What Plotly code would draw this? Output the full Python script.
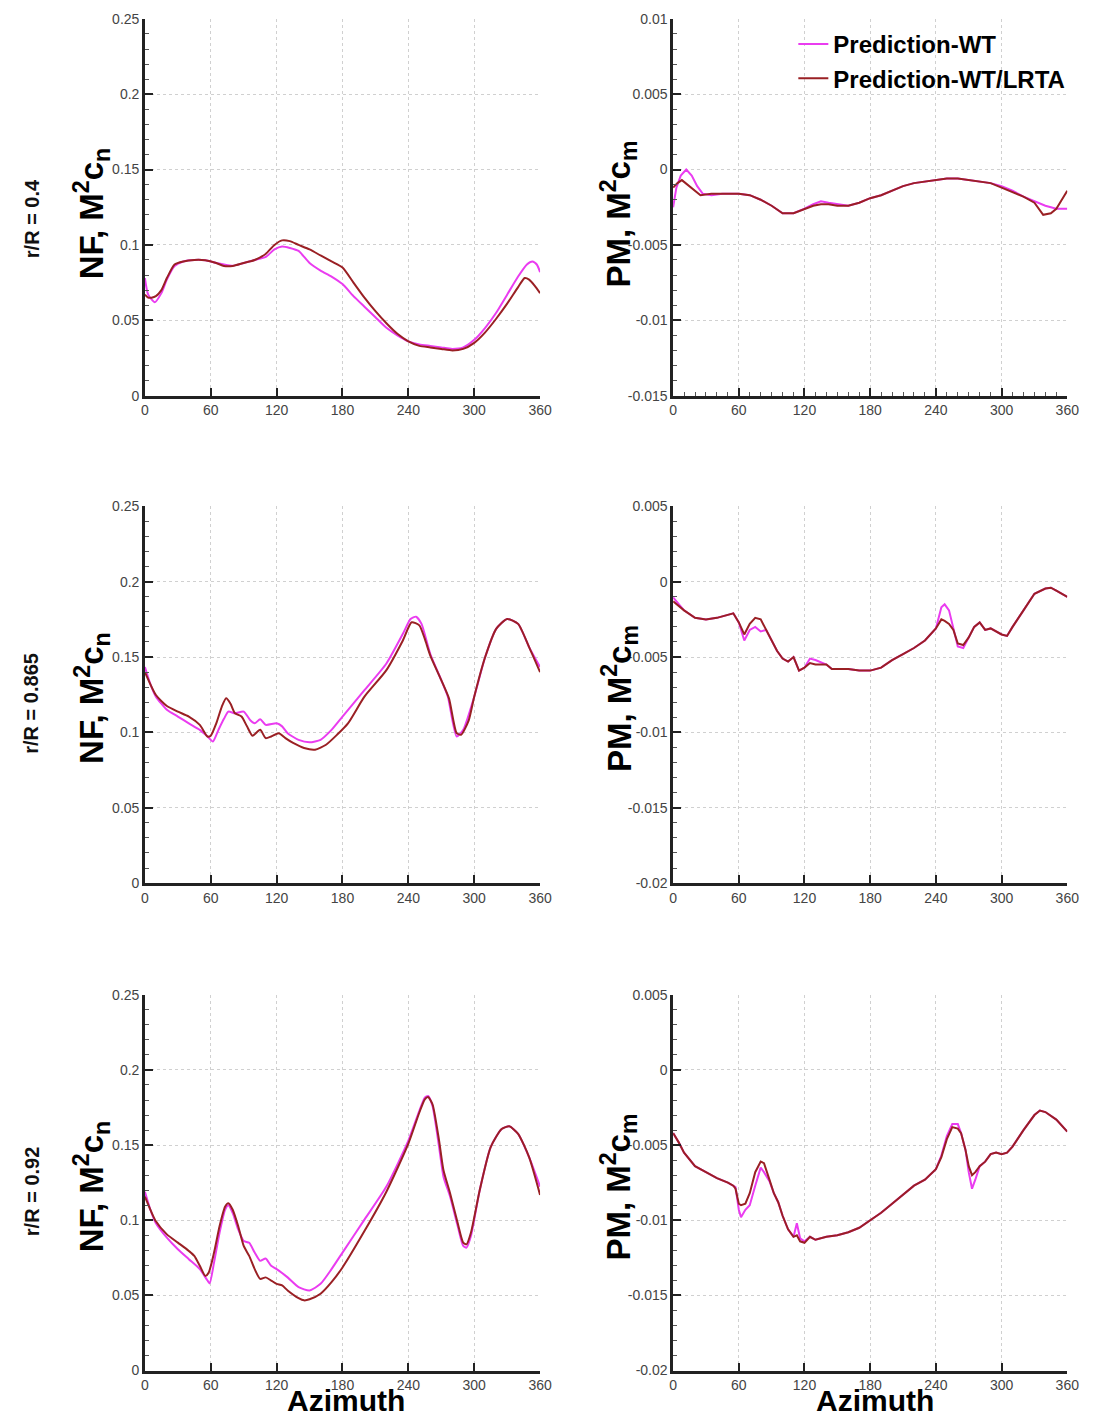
import plotly.graph_objects as go

# ---------------- data ----------------
AZ_TICKS = [0, 60, 120, 180, 240, 300, 360]
AZ_TICKTEXT = ["0", "60", "120", "180", "240", "300", "360"]

NF_TICKS = [0, 0.05, 0.1, 0.15, 0.2, 0.25]
NF_TICKTEXT = ["0", "0.05", "0.1", "0.15", "0.2", "0.25"]
PM_TOP_TICKS = [-0.015, -0.01, -0.005, 0, 0.005, 0.01]
PM_TOP_TICKTEXT = ["-0.015", "-0.01", "-0.005", "0", "0.005", "0.01"]
PM_TICKS = [-0.02, -0.015, -0.01, -0.005, 0, 0.005]
PM_TICKTEXT = ["-0.02", "-0.015", "-0.01", "-0.005", "0", "0.005"]

ROW_LABELS = ["r/R = 0.4", "r/R = 0.865", "r/R = 0.92"]
SERIES_NAMES = ["Prediction-WT", "Prediction-WT/LRTA"]

# r/R = 0.4, normal force
nf04_wt_az = [0, 3, 9, 15, 20, 27, 35, 45, 55, 65, 72, 80, 90, 100, 110, 118, 125, 132, 140, 150,
              160, 170, 180, 190, 200, 210, 220, 230, 240, 250, 260, 270, 280, 290, 300, 310, 320,
              330, 340, 348, 353, 357, 360]
nf04_wt = [0.078, 0.067, 0.062, 0.068, 0.077, 0.086, 0.089, 0.090, 0.0898, 0.088, 0.087, 0.0862,
           0.088, 0.090, 0.092, 0.097, 0.099, 0.098, 0.096, 0.088, 0.083, 0.079, 0.074, 0.066,
           0.059, 0.052, 0.045, 0.040, 0.036, 0.034, 0.033, 0.032, 0.031, 0.032, 0.037, 0.045,
           0.055, 0.067, 0.079, 0.087, 0.089, 0.087, 0.082]
nf04_lr_az = [0, 3, 6, 10, 15, 20, 27, 35, 45, 55, 65, 72, 80, 90, 100, 110, 118, 125, 132, 140,
              150, 160, 170, 180, 190, 200, 210, 220, 230, 240, 250, 260, 270, 280, 290, 300, 310,
              320, 330, 340, 346, 350, 355, 360]
nf04_lr = [0.067, 0.065, 0.065, 0.066, 0.070, 0.078, 0.087, 0.089, 0.090, 0.0898, 0.088, 0.086,
           0.086, 0.088, 0.090, 0.094, 0.100, 0.103, 0.1025, 0.100, 0.097, 0.093, 0.089, 0.085,
           0.075, 0.065, 0.056, 0.048, 0.041, 0.036, 0.033, 0.032, 0.031, 0.030, 0.031, 0.035,
           0.042, 0.051, 0.061, 0.072, 0.078, 0.077, 0.073, 0.068]

# r/R = 0.4, pitching moment
pm04_wt_az = [0, 3, 7, 12, 17, 22, 27, 35, 45, 60, 70, 80, 90, 100, 110, 120, 128, 135, 142, 150,
              160, 170, 180, 190, 200, 210, 220, 230, 240, 250, 260, 270, 280, 290, 300, 310, 320,
              330, 340, 350, 355, 360]
pm04_wt = [-0.0025, -0.0012, -0.0004, 0.0, -0.0004, -0.0011, -0.0016, -0.0017, -0.0016, -0.0016,
           -0.0017, -0.0020, -0.0024, -0.0029, -0.0029, -0.0026, -0.0023, -0.0021, -0.0022,
           -0.0023, -0.0024, -0.0022, -0.0019, -0.0017, -0.0014, -0.0011, -0.0009, -0.0008,
           -0.0007, -0.0006, -0.0006, -0.0007, -0.0008, -0.0009, -0.0011, -0.0014, -0.0018,
           -0.0021, -0.0024, -0.0026, -0.0026, -0.0026]
pm04_lr_az = [0, 4, 8, 13, 18, 25, 35, 45, 60, 70, 80, 90, 100, 110, 120, 128, 135, 142, 150, 160,
              170, 180, 190, 200, 210, 220, 230, 240, 250, 260, 270, 280, 290, 300, 310, 320, 330,
              338, 345, 350, 355, 360]
pm04_lr = [-0.0012, -0.0009, -0.0007, -0.0010, -0.0013, -0.0017, -0.0016, -0.0016, -0.0016,
           -0.0017, -0.0020, -0.0024, -0.0029, -0.0029, -0.0026, -0.0024, -0.0023, -0.0023,
           -0.0024, -0.0024, -0.0022, -0.0019, -0.0017, -0.0014, -0.0011, -0.0009, -0.0008,
           -0.0007, -0.0006, -0.0006, -0.0007, -0.0008, -0.0009, -0.0012, -0.0015, -0.0018,
           -0.0022, -0.0030, -0.0029, -0.0026, -0.0020, -0.0014]

# r/R = 0.865, normal force
nf0865_wt_az = [0, 5, 10, 20, 30, 40, 50, 57, 62, 67, 72, 76, 82, 90, 96, 100, 105, 110, 120, 125,
                130, 140, 150, 160, 170, 180, 200, 220, 235, 242, 247, 252, 260, 270, 276, 284,
                290, 300, 310, 320, 330, 340, 350, 360]
nf0865_wt = [0.1434, 0.132, 0.1237, 0.115, 0.1105, 0.106, 0.1017, 0.0973, 0.094, 0.1017, 0.109,
             0.1138, 0.1127, 0.1138, 0.108, 0.106, 0.1087, 0.105, 0.106, 0.104, 0.0995, 0.095,
             0.0934, 0.0951, 0.1017, 0.1105, 0.128, 0.1457, 0.1654, 0.1753, 0.1768, 0.172, 0.152,
             0.1347, 0.1237, 0.0973, 0.1017, 0.1237, 0.150, 0.1687, 0.1753, 0.172, 0.1566, 0.1434]
nf0865_lr_az = [0, 10, 20, 30, 40, 50, 57, 60, 65, 70, 74, 78, 82, 88, 93, 98, 105, 110, 115, 122,
                128, 135, 145, 155, 165, 175, 185, 200, 220, 235, 243, 250, 255, 260, 270, 277,
                284, 288, 295, 300, 310, 320, 330, 340, 350, 360]
nf0865_lr = [0.140, 0.1248, 0.1175, 0.1138, 0.1105, 0.105, 0.0973, 0.0978, 0.106, 0.117, 0.1226,
             0.119, 0.1127, 0.1105, 0.104, 0.0978, 0.1017, 0.0962, 0.0973, 0.0995, 0.0962, 0.093,
             0.0896, 0.0885, 0.0918, 0.0984, 0.106, 0.1237, 0.1413, 0.161, 0.1731, 0.171, 0.162,
             0.151, 0.1347, 0.1226, 0.0995, 0.0984, 0.108, 0.1237, 0.150, 0.1687, 0.1753, 0.172,
             0.1566, 0.140]

# r/R = 0.865, pitching moment
pm0865_az = [0, 5, 10, 20, 30, 40, 50, 55, 60, 65, 70, 75, 80, 85, 90, 95, 100, 105, 110, 115, 120,
             125, 130, 140, 145, 160, 170, 180, 190, 200, 210, 220, 230, 240, 245, 248, 252, 256,
             260, 265, 270, 275, 280, 285, 290, 300, 305, 310, 320, 330, 340, 345, 350, 360]
pm0865_wt = [-0.00104, -0.0015, -0.0019, -0.0024, -0.0025, -0.0024, -0.0022, -0.0021, -0.0027,
             -0.0039, -0.0032, -0.0030, -0.0033, -0.0032, -0.0039, -0.0046, -0.0051, -0.0053,
             -0.0050, -0.0059, -0.0057, -0.0051, -0.0052, -0.0055, -0.0058, -0.0058, -0.0059,
             -0.0059, -0.0057, -0.0052, -0.0048, -0.0044, -0.0039, -0.0031, -0.0017, -0.0015,
             -0.0019, -0.0032, -0.0043, -0.0044, -0.0037, -0.0030, -0.0027, -0.0032, -0.0031,
             -0.0035, -0.0036, -0.0030, -0.0019, -0.0008, -0.00045, -0.0004, -0.0006, -0.0010]
pm0865_lr = [-0.0013, -0.0016, -0.0019, -0.0024, -0.0025, -0.0024, -0.0022, -0.0021, -0.0027,
             -0.0035, -0.0028, -0.0024, -0.0025, -0.0032, -0.0039, -0.0046, -0.0051, -0.0053,
             -0.0050, -0.0059, -0.0057, -0.0054, -0.0055, -0.0055, -0.0058, -0.0058, -0.0059,
             -0.0059, -0.0057, -0.0052, -0.0048, -0.0044, -0.0039, -0.0031, -0.0025, -0.0026,
             -0.0028, -0.0032, -0.0041, -0.0042, -0.0037, -0.0030, -0.0027, -0.0032, -0.0031,
             -0.0035, -0.0036, -0.0030, -0.0019, -0.0008, -0.00045, -0.0004, -0.0006, -0.0010]

# r/R = 0.92, normal force
nf092_wt_az = [0, 5, 10, 20, 30, 40, 50, 57, 59, 63, 68, 73, 76, 80, 85, 90, 95, 100, 105, 110, 115,
               120, 130, 140, 150, 160, 170, 180, 200, 220, 240, 250, 255, 258, 262, 268, 272, 278,
               285, 290, 293, 297, 305, 315, 325, 332, 340, 350, 360]
nf092_wt = [0.119, 0.107, 0.098, 0.0884, 0.0807, 0.0741, 0.0675, 0.0599, 0.058, 0.072, 0.0917,
            0.107, 0.110, 0.1048, 0.0939, 0.0862, 0.085, 0.0785, 0.073, 0.0746, 0.0697, 0.0675,
            0.062, 0.0555, 0.0533, 0.0577, 0.0675, 0.0785, 0.1004, 0.1224, 0.153, 0.1728, 0.1816,
            0.1827, 0.176, 0.1487, 0.129, 0.1158, 0.096, 0.0829, 0.0818, 0.0895, 0.120, 0.1487,
            0.1607, 0.1625, 0.1575, 0.142, 0.1224]
nf092_lr_az = [0, 10, 20, 30, 40, 45, 50, 55, 58, 63, 68, 73, 76, 80, 85, 90, 95, 100, 105, 110, 115,
               120, 125, 130, 140, 145, 150, 160, 170, 180, 200, 220, 240, 250, 255, 258, 262, 268,
               272, 278, 285, 290, 293, 297, 305, 315, 325, 332, 340, 350, 360]
nf092_lr = [0.1158, 0.0993, 0.0906, 0.0851, 0.0796, 0.0763, 0.0697, 0.063, 0.065, 0.0785, 0.096,
            0.109, 0.1114, 0.107, 0.096, 0.0829, 0.0763, 0.0675, 0.061, 0.062, 0.0599, 0.0577,
            0.0566, 0.0533, 0.0482, 0.0467, 0.0474, 0.0511, 0.0588, 0.0686, 0.0928, 0.119, 0.151,
            0.1717, 0.1805, 0.182, 0.1772, 0.153, 0.1333, 0.118, 0.098, 0.0851, 0.084, 0.0917,
            0.120, 0.1487, 0.1607, 0.1625, 0.1575, 0.142, 0.1169]

# r/R = 0.92, pitching moment
pm092_az = [0, 5, 10, 20, 30, 40, 50, 55, 57, 60, 62, 66, 70, 75, 80, 83, 88, 92, 96, 100, 105, 110,
            113, 116, 120, 125, 130, 140, 150, 160, 170, 180, 190, 200, 210, 220, 230, 240, 245,
            250, 255, 260, 263, 267, 270, 273, 276, 280, 285, 290, 295, 300, 305, 310, 320, 330,
            335, 340, 350, 360]
pm092_wt = [-0.0042, -0.0048, -0.0055, -0.0064, -0.0068, -0.0072, -0.0075, -0.0077, -0.0078,
            -0.0093, -0.0098, -0.0093, -0.0090, -0.0077, -0.0065, -0.0068, -0.0074, -0.0082,
            -0.0088, -0.0097, -0.0106, -0.0111, -0.0102, -0.0112, -0.0114, -0.0111, -0.0113,
            -0.0111, -0.0110, -0.0108, -0.0105, -0.0100, -0.0095, -0.0089, -0.0083, -0.0077,
            -0.0073, -0.0066, -0.0057, -0.0044, -0.0036, -0.0036, -0.0042, -0.0053, -0.0068,
            -0.0079, -0.0073, -0.0064, -0.0061, -0.0056, -0.0055, -0.0056, -0.0055, -0.0051,
            -0.0040, -0.0030, -0.0027, -0.0028, -0.0033, -0.0041]
pm092_lr = [-0.0042, -0.0048, -0.0055, -0.0064, -0.0068, -0.0072, -0.0075, -0.0077, -0.0079,
            -0.0089, -0.0090, -0.0089, -0.0082, -0.0068, -0.0061, -0.0062, -0.0073, -0.0082,
            -0.0088, -0.0097, -0.0106, -0.0111, -0.0110, -0.0114, -0.0115, -0.0111, -0.0113,
            -0.0111, -0.0110, -0.0108, -0.0105, -0.0100, -0.0095, -0.0089, -0.0083, -0.0077,
            -0.0073, -0.0066, -0.0058, -0.0046, -0.0038, -0.0039, -0.0042, -0.0053, -0.0064,
            -0.0070, -0.0068, -0.0064, -0.0061, -0.0056, -0.0055, -0.0056, -0.0055, -0.0051,
            -0.0040, -0.0030, -0.0027, -0.0028, -0.0033, -0.0041]

# ---------------- styling ----------------
W, H = 1098, 1428
COL_WT = "#ea3cf0"
COL_LR = "#9a2024"
FONT = "Liberation Sans, Arial, sans-serif"
AXC = "#222222"


def fx(p):
    return p / W


def fy(p):
    return 1 - p / H


x_domains = [[fx(143), fx(544)], [fx(679), fx(1079)]]
y_domains = [[fy(392), fy(11)], [fy(885), fy(504)], [fy(1378), fy(998)]]

panels = [
    (0, 0, [(nf04_wt_az, nf04_wt), (nf04_lr_az, nf04_lr)], [0, 0.25], NF_TICKS, NF_TICKTEXT, 0.01, True),
    (0, 1, [(pm04_wt_az, pm04_wt), (pm04_lr_az, pm04_lr)], [-0.015, 0.01], PM_TOP_TICKS, PM_TOP_TICKTEXT, 0.001, False),
    (1, 0, [(nf0865_wt_az, nf0865_wt), (nf0865_lr_az, nf0865_lr)], [0, 0.25], NF_TICKS, NF_TICKTEXT, 0.01, True),
    (1, 1, [(pm0865_az, pm0865_wt), (pm0865_az, pm0865_lr)], [-0.02, 0.005], PM_TICKS, PM_TICKTEXT, 0.001, False),
    (2, 0, [(nf092_wt_az, nf092_wt), (nf092_lr_az, nf092_lr)], [0, 0.25], NF_TICKS, NF_TICKTEXT, 0.01, True),
    (2, 1, [(pm092_az, pm092_wt), (pm092_az, pm092_lr)], [-0.02, 0.005], PM_TICKS, PM_TICKTEXT, 0.001, False),
]

fig = go.Figure()
layout = {}
for i, (r, c, series, yr, yt, ytt, ydt, smooth) in enumerate(panels):
    n = i + 1
    xa = "x" if n == 1 else f"x{n}"
    ya = "y" if n == 1 else f"y{n}"
    for k, ((az, vals), col) in enumerate(zip(series, [COL_WT, COL_LR])):
        line = dict(color=col, width=2)
        if smooth:
            line.update(shape="spline", smoothing=0.6)
        fig.add_trace(go.Scatter(
            x=az, y=vals, mode="lines", line=line, name=SERIES_NAMES[k],
            showlegend=(n == 1), xaxis=xa, yaxis=ya, hoverinfo="skip"))
    common = dict(showline=True, linecolor=AXC, linewidth=2.5, mirror=False,
                  ticks="inside", ticklen=8, tickwidth=2, tickcolor=AXC,
                  showgrid=True, gridcolor="#d0d0d0", griddash="dot", gridwidth=1,
                  zeroline=False, tickfont=dict(family=FONT, size=14, color="#444444"))
    xkey = "xaxis" if n == 1 else f"xaxis{n}"
    ykey = "yaxis" if n == 1 else f"yaxis{n}"
    xdict = dict(common, domain=x_domains[c], range=[0, 360], tickmode="array",
                 tickvals=AZ_TICKS, ticktext=AZ_TICKTEXT, anchor=ya)
    if n == 2:
        xdict["minor"] = dict(tickmode="linear", tick0=0, dtick=10, ticks="inside",
                              ticklen=4, tickwidth=1.2, tickcolor="#555", showgrid=False)
    ydict = dict(common, domain=y_domains[r], range=yr, tickmode="array",
                 tickvals=yt, ticktext=ytt, anchor=xa,
                 minor=dict(tickmode="linear", tick0=0, dtick=ydt, ticks="inside",
                            ticklen=4, tickwidth=1.2, tickcolor="#555", showgrid=False))
    layout[xkey] = xdict
    layout[ykey] = ydict

fig.update_layout(**layout)

ann = []
title_nf = "<b>NF, M<sup>2</sup>c<sub>n</sub></b>"
title_pm = "<b>PM, M<sup>2</sup>c<sub>m</sub></b>"
row_centers = [208, 698, 1192]
for r, yc in enumerate(row_centers):
    ann.append(dict(text=f"<b>{ROW_LABELS[r]}</b>", x=fx(28), y=fy(yc + 5), xref="paper", yref="paper",
                    textangle=-90, showarrow=False, font=dict(family=FONT, size=20, color="#111"),
                    xanchor="center", yanchor="middle"))
    ann.append(dict(text=title_nf, x=fx(89), y=fy(yc), xref="paper", yref="paper",
                    textangle=-90, showarrow=False, font=dict(family=FONT, size=33, color="#000"),
                    xanchor="center", yanchor="middle"))
    ann.append(dict(text=title_pm, x=fx(624), y=fy(yc), xref="paper", yref="paper",
                    textangle=-90, showarrow=False, font=dict(family=FONT, size=33, color="#000"),
                    xanchor="center", yanchor="middle"))
for xc in [347, 884]:
    ann.append(dict(text="<b>Azimuth</b>", x=fx(xc), y=fy(1427), xref="paper", yref="paper",
                    showarrow=False, font=dict(family=FONT, size=30, color="#000"),
                    xanchor="center", yanchor="bottom"))

fig.update_layout(
    width=W, height=H, autosize=False,
    margin=dict(l=0, r=0, t=0, b=0),
    paper_bgcolor="white", plot_bgcolor="white",
    annotations=ann,
    legend=dict(x=fx(801), y=fy(14), xanchor="left", yanchor="top",
                bgcolor="rgba(0,0,0,0)", font=dict(family=FONT, size=24, color="#000", weight="bold"),
                tracegroupgap=0),
    showlegend=True,
)

fig.write_html("out.html")
